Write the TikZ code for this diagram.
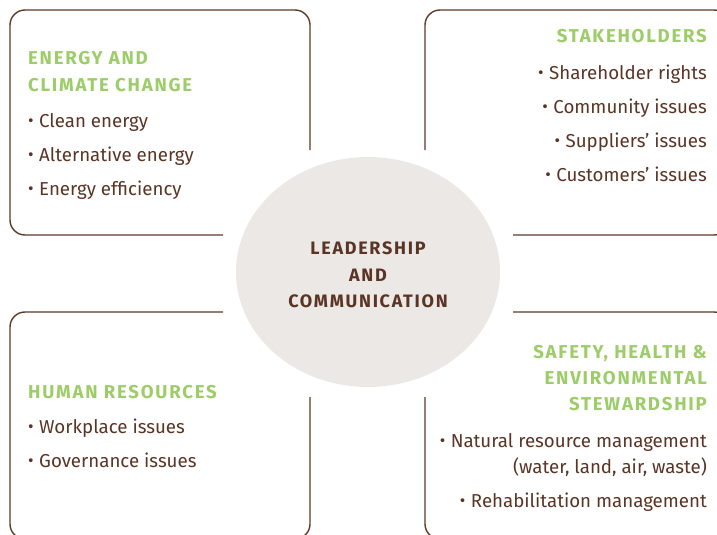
\documentclass[tikz,border=0pt]{standalone}
\usepackage{fontspec}
\setmainfont{Fira Sans}
\newfontfamily\headfont[LetterSpace=9.5]{Fira Sans}
\usetikzlibrary{calc}

\definecolor{framebrown}{HTML}{5E3B27}
\definecolor{textbrown}{HTML}{5A3424}
\definecolor{leafgreen}{HTML}{9CCD69}
\definecolor{stonegrey}{HTML}{ECE8E5}

\newcommand\bul{\raisebox{0.3pt}{\fontsize{17}{17}\selectfont•}\hspace{5.5pt}}

\tikzset{
  frame/.style={draw=framebrown, line width=1.4pt, rounded corners=15pt},
  head/.style={inner sep=0pt, text=leafgreen, font=\headfont\bfseries\fontsize{18.6}{18.6}\selectfont},
  item/.style={inner sep=0pt, text=textbrown, font=\fontsize{18.7}{18.7}\selectfont},
  core/.style={inner sep=0pt, text=textbrown, font=\headfont\bfseries\fontsize{18}{18}\selectfont},
}

\begin{document}
\begin{tikzpicture}[x=1pt, y=-1pt]
  \useasboundingbox (0,0) rectangle (717,535);
  \clip (0,0) rectangle (717,535);

  % open frames around the four themes
  \draw[frame] (223,235) -- (10,235) -- (10,10) -- (310,10) -- (310,150);
  \draw[frame] (425,150) -- (425,10) -- (729,10) -- (729,235) -- (513,235);
  \draw[frame] (223,312) -- (10,312) -- (10,539) -- (310,539) -- (310,397);
  \draw[frame] (513,312) -- (729,312) -- (729,539) -- (425,539) -- (425,397);

  % central ellipse
  \fill[stonegrey] (368,272) ellipse [x radius=132, y radius=115];
  \node[core, anchor=base] (c1) at (368,254) {LEADERSHIP};
  \node[core, anchor=base] (c2) at (368,281) {AND};
  \node[core, anchor=base] (c3) at (368,307) {COMMUNICATION};

  % energy and climate change
  \node[head, anchor=base west] (e1) at (28,65) {ENERGY AND};
  \node[head, anchor=base west] (e2) at (28,92) {CLIMATE CHANGE};
  \node[item, anchor=base west] (e3) at (28,127) {\bul Clean energy};
  \node[item, anchor=base west] (e4) at (28,161) {\bul Alternative energy};
  \node[item, anchor=base west] (e5) at (28,195) {\bul Energy efficiency};

  % stakeholders
  \node[head, anchor=base east] (s1) at (707,43) {STAKEHOLDERS};
  \node[item, anchor=base east] (s2) at (707,79) {\bul Shareholder rights};
  \node[item, anchor=base east] (s3) at (707,113) {\bul Community issues};
  \node[item, anchor=base east] (s4) at (707,147) {\bul Suppliers’ issues};
  \node[item, anchor=base east] (s5) at (707,181) {\bul Customers’ issues};

  % human resources
  \node[head, anchor=base west] (h1) at (28,398) {HUMAN RESOURCES};
  \node[item, anchor=base west] (h2) at (28,433) {\bul Workplace issues};
  \node[item, anchor=base west] (h3) at (28,467) {\bul Governance issues};

  % safety, health and environmental stewardship
  \node[head, anchor=base east] (w1) at (707,358) {SAFETY, HEALTH \&};
  \node[head, anchor=base east] (w2) at (707,384) {ENVIRONMENTAL};
  \node[head, anchor=base east] (w3) at (707,410) {STEWARDSHIP};
  \node[item, anchor=base east] (w4) at (707,447) {\bul Natural resource management};
  \node[item, anchor=base east] (w5) at (707,473) {(water, land, air, waste)};
  \node[item, anchor=base east] (w6) at (707,507) {\bul Rehabilitation management};
\end{tikzpicture}
\end{document}
